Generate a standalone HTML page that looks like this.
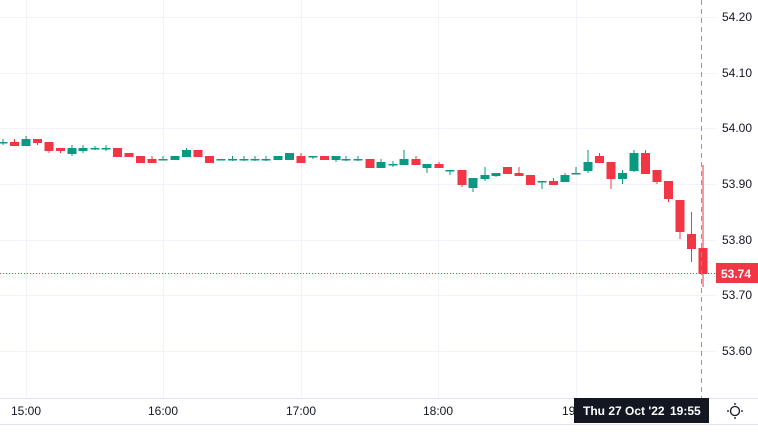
<!DOCTYPE html>
<html><head><style>
body{margin:0;background:#fff;width:758px;height:427px;overflow:hidden;font-family:"Liberation Sans",sans-serif;}
svg text{font-family:"Liberation Sans",sans-serif;}
</style></head><body>
<svg width="758" height="427" viewBox="0 0 758 427" xmlns="http://www.w3.org/2000/svg">
<g stroke="#f0f3fa" stroke-width="1">
<line x1="0" y1="17.5" x2="715" y2="17.5"/><line x1="0" y1="73.5" x2="715" y2="73.5"/>
<line x1="0" y1="128.5" x2="715" y2="128.5"/><line x1="0" y1="184.5" x2="715" y2="184.5"/>
<line x1="0" y1="240.5" x2="715" y2="240.5"/><line x1="0" y1="295.5" x2="715" y2="295.5"/>
<line x1="0" y1="351.5" x2="715" y2="351.5"/>
<line x1="26.5" y1="0" x2="26.5" y2="398"/><line x1="163.5" y1="0" x2="163.5" y2="398"/>
<line x1="301.5" y1="0" x2="301.5" y2="398"/><line x1="438.5" y1="0" x2="438.5" y2="398"/>
<line x1="576.5" y1="0" x2="576.5" y2="398"/>
</g>
<line x1="0" y1="398.5" x2="758" y2="398.5" stroke="#e0e3eb"/>
<line x1="0" y1="424.5" x2="758" y2="424.5" stroke="#e0e3eb"/>
<line x1="0" y1="273.5" x2="716" y2="273.5" stroke="#f23645" stroke-dasharray="1,2"/>
<g id="c"></g>
<line x1="701.5" y1="0" x2="701.5" y2="398" stroke="#9598a1" stroke-dasharray="5,4"/>
<g font-size="12" fill="#131722">
<text x="722" y="21">54.20</text><text x="722" y="77">54.10</text><text x="722" y="132">54.00</text>
<text x="722" y="188">53.90</text><text x="722" y="244">53.80</text><text x="722" y="299">53.70</text>
<text x="722" y="355">53.60</text>
<text x="26" y="415" text-anchor="middle">15:00</text><text x="163" y="415" text-anchor="middle">16:00</text>
<text x="301" y="415" text-anchor="middle">17:00</text><text x="438" y="415" text-anchor="middle">18:00</text>
<text x="562" y="415">19</text>
</g>
<rect x="716" y="263" width="42" height="20" fill="#f23645"/>
<text x="721" y="278" font-size="12" font-weight="bold" fill="#fff">53.74</text>
<rect x="574" y="398" width="135" height="25" fill="#131722"/>
<text x="583" y="415" font-size="12" font-weight="bold" fill="#fff">Thu 27 Oct '22</text>
<text x="670" y="415" font-size="12" font-weight="bold" fill="#fff">19:55</text>
<circle cx="735" cy="411" r="4.5" fill="none" stroke="#131722" stroke-width="1.3"/>
<g stroke="#131722" stroke-width="1.3"><line x1="735" y1="403" x2="735" y2="405"/><line x1="735" y1="417" x2="735" y2="419"/><line x1="727" y1="411" x2="729" y2="411"/><line x1="741" y1="411" x2="743" y2="411"/></g>
</svg>
<script>
const G='#089981',R='#f23645';
// [cx, bodyTop, bodyBot, wickTop, wickBot, color]
const d=[
[3,142,142,139,145,G],[14.5,142,146,139,146,R],[26,139,146,136,146,G],[37.5,139,143,139,145,R],
[49,142,151,142,153,R],[60.5,148,151,148,153,R],[72,148,154,145,156,G],[83,148,151,145,153,G],
[95,148,148,146,150,G],[106,148,148,145,151,G],[117.5,148,157,148,157,R],[129,153,157,153,157,R],
[140.5,156,163,156,163,R],[152,159,163,156,163,R],[163,159,159,156,159,G],[175,156,160,156,160,G],
[186.5,150,157,148,157,G],[198,150,157,150,157,R],[209.5,156,163,156,163,R],[221,159,159,159,159,G],
[232.5,159,159,156,161,G],[244,159,159,156,161,G],[255,159,159,156,161,G],[266,159,159,156,161,G],
[278,156,160,156,160,G],[289.5,153,160,153,160,G],[301,156,163,153,163,R],[313,156,156,156,159,G],
[324.5,156,160,156,160,R],[336,156,160,156,162,G],[346,159,159,156,161,G],[358,159,159,156,161,G],
[370,159,168,159,168,R],[381,162,168,159,168,G],[393,164,164,161,167,G],[404,159,165,150,165,G],
[416,159,165,156,165,R],[427,164,168,164,173,G],[439,164,168,162,168,R],[450,170,170,170,175,G],
[462,170,185,170,187,R],[473,178,188,178,192,G],[485,175,179,167,181,G],[496,173,176,173,177,G],
[507.5,167,174,167,174,R],[519,173,176,167,176,R],[530.5,175,185,175,185,R],[542,181,181,181,189,G],
[553.5,181,185,178,185,R],[565,175,182,173,182,G],[576,173,173,167,173,G],[588,162,171,150,173,G],
[599.5,156,163,153,163,R],[611,162,179,162,189,R],[622.5,173,179,170,184,G],[634,153,171,150,172,G],
[645.5,153,174,150,174,R],[657,170,182,170,184,R],[668.5,181,199,181,202,R],[680,200,232,200,239,R],
[691.5,234,249,212,262,R],[703,248,274,165,287,R]];
let s='';
for(const [x,t,b,wt,wb,c] of d){
 s+=`<line x1="${x}" y1="${wt}" x2="${x}" y2="${wb}" stroke="${c}" stroke-width="1"/>`;
 const h=Math.max(b-t,1.5);
 s+=`<rect x="${x-4.5}" y="${t}" width="9" height="${h}" fill="${c}"/>`;
}
document.getElementById('c').innerHTML=s;
</script>
</body></html>
